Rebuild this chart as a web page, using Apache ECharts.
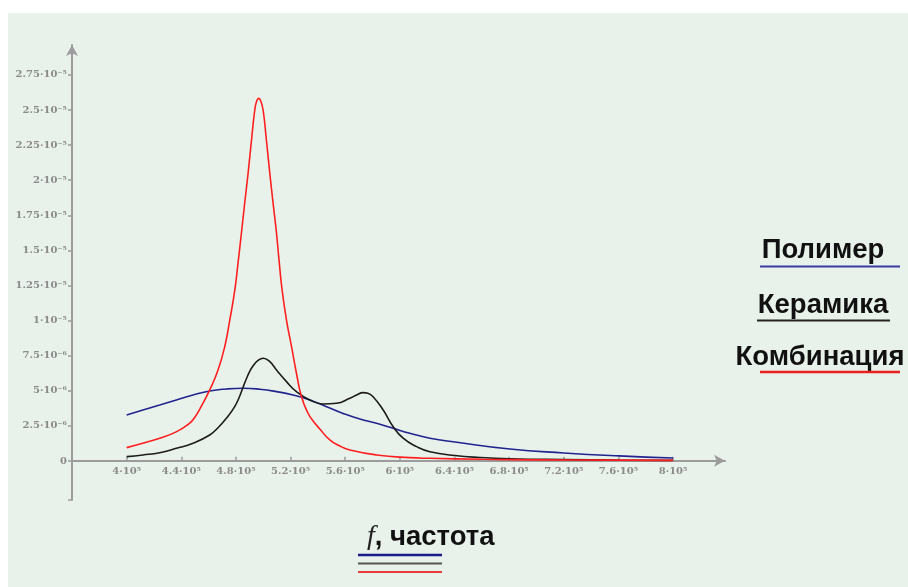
<!DOCTYPE html>
<html>
<head>
<meta charset="utf-8">
<script src="https://cdn.jsdelivr.net/npm/echarts@6/dist/echarts.min.js"></script>
<style>
html,body{margin:0;padding:0;background:#ffffff;}
#chart{width:908px;height:587px;}
</style>
</head>
<body>
<div id="chart"></div>
<script>
// ---- data ----
const xTickValues = [400000, 440000, 480000, 520000, 560000, 600000, 640000, 680000, 720000, 760000, 800000];
const xTickLabels = ['4·10⁵','4.4·10⁵','4.8·10⁵','5.2·10⁵','5.6·10⁵','6·10⁵','6.4·10⁵','6.8·10⁵','7.2·10⁵','7.6·10⁵','8·10⁵'];
const yTickValues = [0, 2.5e-6, 5e-6, 7.5e-6, 1e-5, 1.25e-5, 1.5e-5, 1.75e-5, 2e-5, 2.25e-5, 2.5e-5, 2.75e-5];
const yTickLabels = ['0','2.5·10⁻⁶','5·10⁻⁶','7.5·10⁻⁶','1·10⁻⁵','1.25·10⁻⁵','1.5·10⁻⁵','1.75·10⁻⁵','2·10⁻⁵','2.25·10⁻⁵','2.5·10⁻⁵','2.75·10⁻⁵'];

const legendNames = ['Полимер', 'Керамика', 'Комбинация'];
const axisTitleItalic = 'f';
const axisTitleText = ', частота';

// Полимер (blue)
const polymerF = [400000,411900,424200,436400,448600,460800,473000,485200,497400,509700,521800,534100,546300,558500,570700,582900,595100,607300,622000,640300,680600,720100,760400,800000];
const polymerV = [3.28e-6,3.63e-6,3.99e-6,4.35e-6,4.70e-6,4.99e-6,5.13e-6,5.18e-6,5.11e-6,4.94e-6,4.70e-6,4.35e-6,3.87e-6,3.39e-6,2.99e-6,2.69e-6,2.33e-6,1.97e-6,1.62e-6,1.35e-6,0.85e-6,0.57e-6,0.36e-6,0.21e-6];

// Керамика (black)
const ceramicF = [400000,411900,424200,436400,448600,460800,466700,473000,479100,482800,485000,487900,490100,492500,496200,499900,504800,509700,517000,524300,534100,543800,553600,563400,568300,573100,576600,580400,587800,595100,602400,612200,622000,640300,658600,680600,720100,760400,800000];
const ceramicV = [0.31e-6,0.43e-6,0.59e-6,0.90e-6,1.26e-6,1.85e-6,2.35e-6,3.04e-6,3.87e-6,4.63e-6,5.20e-6,5.91e-6,6.38e-6,6.77e-6,7.16e-6,7.32e-6,7.07e-6,6.48e-6,5.65e-6,4.94e-6,4.35e-6,4.06e-6,4.11e-6,4.47e-6,4.70e-6,4.87e-6,4.82e-6,4.58e-6,3.63e-6,2.44e-6,1.62e-6,1.02e-6,0.66e-6,0.39e-6,0.25e-6,0.16e-6,0.10e-6,0.06e-6,0.04e-6];

// Комбинация (red)
const comboF = [400000,411700,424200,436600,446200,449800,454700,460800,466900,471800,475500,479200,481500,484000,486400,488900,491400,493800,495200,496700,498200,499900,502300,504800,507200,509700,511600,513800,517000,520700,524300,528000,532800,536500,541400,548700,556000,563400,582900,607300,622000,660000,700000,750000,800000];
const comboV = [0.95e-6,1.26e-6,1.62e-6,2.09e-6,2.70e-6,3.10e-6,3.90e-6,5.06e-6,6.48e-6,8.14e-6,10.04e-6,12.18e-6,14.08e-6,16.22e-6,18.36e-6,20.49e-6,22.86e-6,25.0e-6,25.64e-6,25.83e-6,25.64e-6,25.0e-6,22.86e-6,20.49e-6,18.36e-6,16.22e-6,14.25e-6,12.18e-6,10.04e-6,8.14e-6,6.25e-6,4.58e-6,3.40e-6,2.85e-6,2.28e-6,1.50e-6,1.07e-6,0.78e-6,0.43e-6,0.235e-6,0.19e-6,0.12e-6,0.08e-6,0.06e-6,0.04e-6];

// ---- chart ----
function zip(a, b) { return a.map((v, i) => [v, b[i]]); }
function lookup(vals, labels, v) {
  for (let i = 0; i < vals.length; i++) {
    if (Math.abs(vals[i] - v) <= Math.abs(vals[1] - vals[0]) * 1e-6) return labels[i];
  }
  return '';
}

const xMin = 360000, xMax = 838000;
const yMin = -2.78e-6, yMax = 2.963e-5;

const axisColor = '#9c9c9c';
const labelStyle = {
  color: '#8a8a8a',
  fontFamily: 'DejaVu Serif',
  fontWeight: 'bold',
  fontSize: 10
};

const chart = echarts.init(document.getElementById('chart'), null, {renderer: 'canvas'});
chart.setOption({
  backgroundColor: 'transparent',
  animation: false,
  grid: {left: 72, right: 183, top: 45, bottom: 87, containLabel: false},
  xAxis: {
    type: 'value',
    min: xMin,
    max: xMax,
    offset: -39.2,
    axisLine: {
      show: true, onZero: false,
      lineStyle: {color: axisColor, width: 2},
      symbol: ['none', 'arrow'], symbolSize: [9, 11]
    },
    axisTick: {show: true, inside: true, length: 4, lineStyle: {color: axisColor, width: 1.5}, customValues: xTickValues},
    axisLabel: Object.assign({
      margin: 6,
      customValues: xTickValues,
      formatter: v => lookup(xTickValues, xTickLabels, v)
    }, labelStyle),
    splitLine: {show: false}
  },
  yAxis: {
    type: 'value',
    min: yMin,
    max: yMax,
    axisLine: {
      show: true, onZero: false,
      lineStyle: {color: axisColor, width: 2},
      symbol: ['none', 'arrow'], symbolSize: [9, 11]
    },
    axisTick: {show: true, inside: false, length: 4, lineStyle: {color: axisColor, width: 1.5}, customValues: yTickValues.concat([yMin])},
    axisLabel: Object.assign({
      margin: 5,
      customValues: yTickValues,
      formatter: v => lookup(yTickValues, yTickLabels, v)
    }, labelStyle),
    splitLine: {show: false}
  },
  series: [
    {
      name: legendNames[0], type: 'line', data: zip(polymerF, polymerV),
      showSymbol: false, smooth: 0.5,
      lineStyle: {color: '#23238f', width: 1.6}
    },
    {
      name: legendNames[1], type: 'line', data: zip(ceramicF, ceramicV),
      showSymbol: false, smooth: 0.5,
      lineStyle: {color: '#1c1c1c', width: 1.6}
    },
    {
      name: legendNames[2], type: 'line', data: zip(comboF, comboV),
      showSymbol: false, smooth: 0.5,
      lineStyle: {color: '#ff1f1f', width: 1.6}
    }
  ],
  graphic: [
    {type: 'rect', z: -100, silent: true, shape: {x: 8, y: 13, width: 900, height: 574}, style: {fill: '#e8f2ea'}},
    {type: 'text', x: 823, y: 250, style: {text: legendNames[0], fill: '#111', font: 'bold 27.5px "Liberation Sans", Arial, sans-serif', textAlign: 'center', textVerticalAlign: 'middle'}},
    {type: 'line', shape: {x1: 760, y1: 266.5, x2: 900, y2: 266.5}, style: {stroke: '#3a3aa0', lineWidth: 2}},
    {type: 'text', x: 823, y: 305, style: {text: legendNames[1], fill: '#111', font: 'bold 27.5px "Liberation Sans", Arial, sans-serif', textAlign: 'center', textVerticalAlign: 'middle'}},
    {type: 'line', shape: {x1: 757, y1: 320.5, x2: 890, y2: 320.5}, style: {stroke: '#222', lineWidth: 2}},
    {type: 'text', x: 820, y: 357, style: {text: legendNames[2], fill: '#111', font: 'bold 27.5px "Liberation Sans", Arial, sans-serif', textAlign: 'center', textVerticalAlign: 'middle'}},
    {type: 'line', shape: {x1: 760, y1: 372, x2: 900, y2: 372}, style: {stroke: '#e82020', lineWidth: 2.5}},
    {type: 'text', x: 367, y: 537, style: {
      text: '{f|' + axisTitleItalic + '}{t|' + axisTitleText + '}',
      textVerticalAlign: 'middle',
      rich: {
        f: {font: 'italic 28px "Liberation Serif", "DejaVu Serif", serif', fill: '#222'},
        t: {font: 'bold 27.5px "Liberation Sans", Arial, sans-serif', fill: '#111'}
      }
    }},
    {type: 'line', shape: {x1: 358, y1: 555, x2: 442, y2: 555}, style: {stroke: '#1a1a8a', lineWidth: 2.5}},
    {type: 'line', shape: {x1: 358, y1: 563.5, x2: 442, y2: 563.5}, style: {stroke: '#555', lineWidth: 2}},
    {type: 'line', shape: {x1: 358, y1: 572, x2: 442, y2: 572}, style: {stroke: '#e83a3a', lineWidth: 2}}
  ]
});
</script>
</body>
</html>
